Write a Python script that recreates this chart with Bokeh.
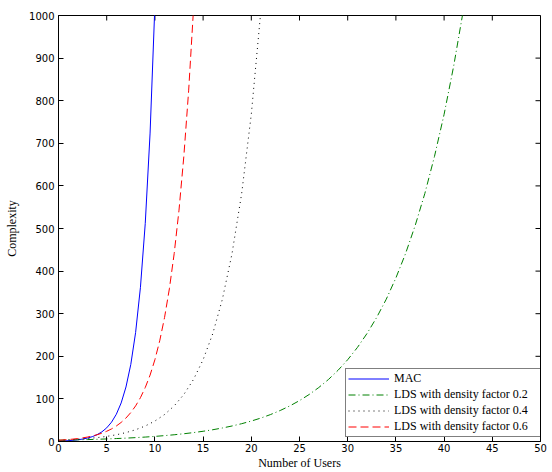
from math import pi
from bokeh.plotting import figure
from bokeh.models import Range1d, FixedTicker, Legend, LegendItem
from bokeh.embed import file_html
from bokeh.resources import INLINE

# ---- data ----
users_mac = [0, 0.5, 1, 1.5, 2, 2.5, 3, 3.5, 4, 4.5, 5, 5.5, 6, 6.5, 7, 7.5, 8, 8.5, 9, 9.5, 10]
mac = [1, 1.4, 2, 2.8, 4, 5.7, 8, 11.3, 16, 22.6, 32, 45.3, 64, 90.5, 128, 181, 256, 362,
       512, 724, 1024]

users_02 = list(range(0, 43))
lds_02 = [3.0, 3.4, 4.0, 4.5, 5.2, 6.0, 6.9, 7.9, 9.1, 10.4, 12.0, 13.8, 15.8, 18.2, 20.9,
          24.0, 27.6, 31.7, 36.4, 41.8, 48.0, 55.1, 63.3, 72.8, 83.6, 96.0, 110.3, 126.7,
          145.5, 167.2, 192.0, 220.5, 253.4, 291.0, 334.0, 384.0, 441.0, 507.0, 582.0,
          669.0, 768.0, 882.0, 1013.0]

users_04 = list(range(0, 22))
lds_04 = [3.0, 4.0, 5.2, 6.9, 9.1, 12.0, 15.8, 20.9, 27.6, 36.4, 48.0, 63.3, 83.6, 110.3,
          145.5, 192.0, 253.0, 334.0, 441.0, 582.0, 768.0, 1013.0]

users_06 = [0, 0.5, 1, 1.5, 2, 2.5, 3, 3.5, 4, 4.5, 5, 5.5, 6, 6.5, 7, 7.5, 8, 8.5, 9, 9.5,
            10, 10.5, 11, 11.5, 12, 12.5, 13, 13.5, 14]
lds_06 = [3.0, 3.7, 4.5, 5.6, 6.9, 8.5, 10.4, 12.9, 15.8, 19.5, 24.0, 29.5, 36.4, 44.8,
          55.1, 67.9, 83.6, 102.9, 126.7, 155.9, 192.0, 236.4, 291.0, 358.3, 441.0, 543.1,
          669.0, 823.1, 1013.0]

x_ticks = [0, 5, 10, 15, 20, 25, 30, 35, 40, 45, 50]
y_ticks = [0, 100, 200, 300, 400, 500, 600, 700, 800, 900, 1000]

x_title = "Number of Users"
y_title = "Complexity"
legend_labels = ["MAC", "LDS with density factor 0.2",
                 "LDS with density factor 0.4", "LDS with density factor 0.6"]

SERIF = "Liberation Serif"
SANS = "DejaVu Sans"

p = figure(width=552, height=472, output_backend="svg", toolbar_location=None,
           x_range=Range1d(x_ticks[0], x_ticks[-1]), y_range=Range1d(y_ticks[0], y_ticks[-1]),
           min_border_left=58, min_border_right=12, min_border_top=15, min_border_bottom=29)
p.background_fill_color = "white"
p.border_fill_color = "white"
p.outline_line_color = "black"
p.outline_line_width = 1
p.xgrid.visible = False
p.ygrid.visible = False

for ax, ticks, standoff, title, title_standoff in (
        (p.xaxis[0], x_ticks, 2, x_title, 1),
        (p.yaxis[0], y_ticks, 4, y_title, 7)):
    ax.ticker = FixedTicker(ticks=ticks)
    ax.axis_line_color = "black"
    ax.major_tick_line_color = "black"
    ax.major_tick_in = 5
    ax.major_tick_out = 0
    ax.minor_tick_line_color = None
    ax.major_label_text_font = SANS
    ax.major_label_text_font_size = "10px"
    ax.major_label_text_color = "black"
    ax.major_label_standoff = standoff
    ax.axis_label = title
    ax.axis_label_text_font = SERIF
    ax.axis_label_text_font_size = "12px"
    ax.axis_label_text_font_style = "normal"
    ax.axis_label_text_color = "black"
    ax.axis_label_standoff = title_standoff

# inward ticks on the top and right edges (MATLAB box style)
p.ray(x=x_ticks, y=[y_ticks[-1]] * len(x_ticks), length=5, length_units="screen",
      angle=-pi / 2, line_color="black", line_width=1)
p.ray(x=[x_ticks[-1]] * len(y_ticks), y=y_ticks, length=5, length_units="screen",
      angle=pi, line_color="black", line_width=1)

r_mac = p.line(users_mac, mac, line_color="#0000FF", line_width=1)
r_02 = p.line(users_02, lds_02, line_color="#008000", line_width=1, line_dash="7 3 1 3")
r_04 = p.line(users_04, lds_04, line_color="#000000", line_width=1, line_dash="1 4")
r_06 = p.line(users_06, lds_06, line_color="#FF0000", line_width=1, line_dash="8 4")

legend = Legend(items=[LegendItem(label=legend_labels[0], renderers=[r_mac]),
                       LegendItem(label=legend_labels[1], renderers=[r_02]),
                       LegendItem(label=legend_labels[2], renderers=[r_04]),
                       LegendItem(label=legend_labels[3], renderers=[r_06])],
                location=(287, 4))
legend.margin = 0
legend.padding = 2
legend.spacing = 1
legend.label_height = 15
legend.glyph_height = 15
legend.glyph_width = 41
legend.label_standoff = 5
legend.label_width = 144
legend.label_text_font = SERIF
legend.label_text_font_size = "12px"
legend.label_text_color = "black"
legend.border_line_color = "black"
legend.border_line_width = 1
legend.background_fill_color = "white"
legend.background_fill_alpha = 1.0
p.add_layout(legend, "center")

open("out.html", "w").write(file_html(p, INLINE))
